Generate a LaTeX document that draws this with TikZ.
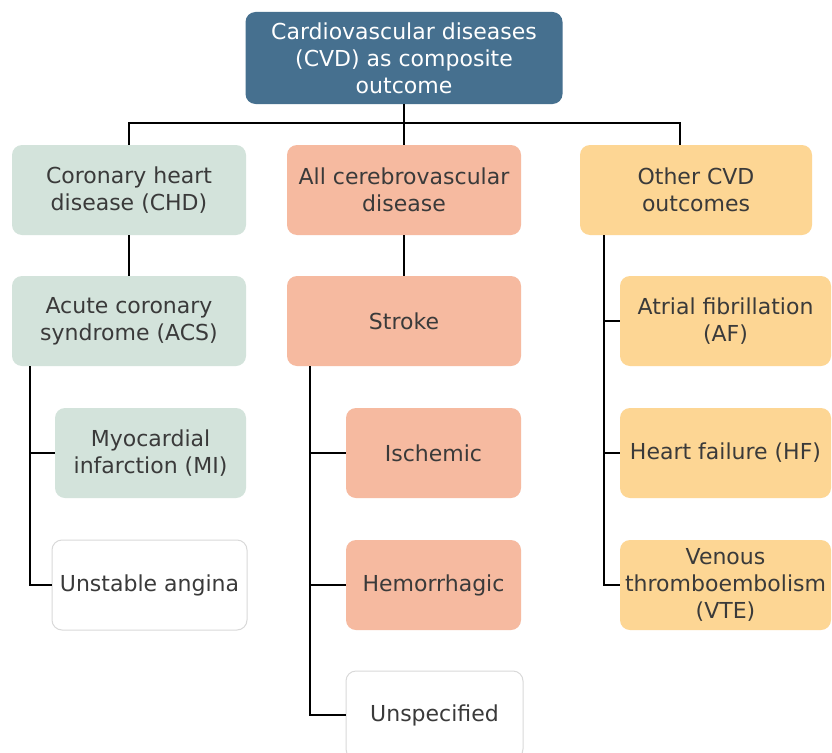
\documentclass[tikz,border=0pt]{standalone}
\usepackage{fontspec}
\setmainfont{DejaVu Sans}
\usepackage{tikz}
\usetikzlibrary{positioning}
\definecolor{cvdblue}{RGB}{70,112,143}
\definecolor{chdgreen}{RGB}{211,227,219}
\definecolor{cbvsalmon}{RGB}{246,186,160}
\definecolor{othorange}{RGB}{253,214,148}
\definecolor{txtgray}{RGB}{58,58,58}
\tikzset{
  box/.style={rounded corners=10pt, align=center, text=txtgray,
    font=\fontsize{22}{27}\selectfont, inner sep=0pt},
  wide/.style={box, minimum width=234pt, minimum height=90pt},
  narrow/.style={box, minimum width=192pt, minimum height=90pt},
  link/.style={line width=1.7pt, black},
}

\begin{document}
\begin{tikzpicture}[x=1pt,y=-1pt]
\clip (0,0) rectangle (832,752);
\fill[white] (0,0) rectangle (832,752);
% top
\node[box, fill=cvdblue, text=white, minimum width=317pt, minimum height=92pt] (cvd) at (404,58) {Cardiovascular diseases\\(CVD) as composite\\outcome};
\coordinate (bus) at (404,123);
% first row
\node[wide, fill=chdgreen] (chd) at (129,190) {Coronary heart\\disease (CHD)};
\node[wide, fill=cbvsalmon] (cbv) at (404,190) {All cerebrovascular\\disease};
\node[wide, fill=othorange, minimum width=232pt] (oth) at (696,190) {Other CVD\\outcomes};
\coordinate (othtop) at ([xshift=-16pt]oth.north);
% second row
\node[wide, fill=chdgreen] (acs) at (129,321) {Acute coronary\\syndrome (ACS)};
\node[wide, fill=cbvsalmon] (str) at (404,321) {Stroke};
\node[box, fill=othorange, minimum width=211pt, minimum height=90pt] (af) at (725.5,321) {Atrial fibrillation\\(AF)};
% lower rows
\node[narrow, fill=chdgreen, minimum width=191pt] (mi) at (150.5,453) {Myocardial\\infarction (MI)};
\node[narrow, draw=black!15, line width=1pt, minimum width=195pt] (ua) at (149.5,585) {Unstable angina};
\node[narrow, fill=cbvsalmon, minimum width=175pt] (isc) at (433.5,453) {Ischemic};
\node[narrow, fill=cbvsalmon, minimum width=175pt] (hem) at (433.5,585) {Hemorrhagic};
\node[narrow, draw=black!15, line width=1pt, minimum width=177pt, minimum height=88pt] (uns) at (434.5,715) {Unspecified};
\node[box, fill=othorange, minimum width=211pt, minimum height=90pt] (hf) at (725.5,453) {Heart failure (HF)};
\node[box, fill=othorange, minimum width=211pt, minimum height=90pt] (vte) at (725.5,585) {Venous\\thromboembolism\\(VTE)};
% connectors
\draw[link] (cvd.south) -- (cbv.north);
\draw[link] (chd.north) |- (bus) -| (othtop);
\draw[link] (chd) -- (acs);
\draw[link] (cbv) -- (str);
\foreach \n in {mi,ua}
  \draw[link] ([xshift=18pt]acs.south west) |- (\n.west);
\foreach \n in {isc,hem,uns}
  \draw[link] ([xshift=23pt]str.south west) |- (\n.west);
\foreach \n in {af,hf,vte}
  \draw[link] ([xshift=24pt]oth.south west) |- (\n.west);
\end{tikzpicture}
\end{document}
